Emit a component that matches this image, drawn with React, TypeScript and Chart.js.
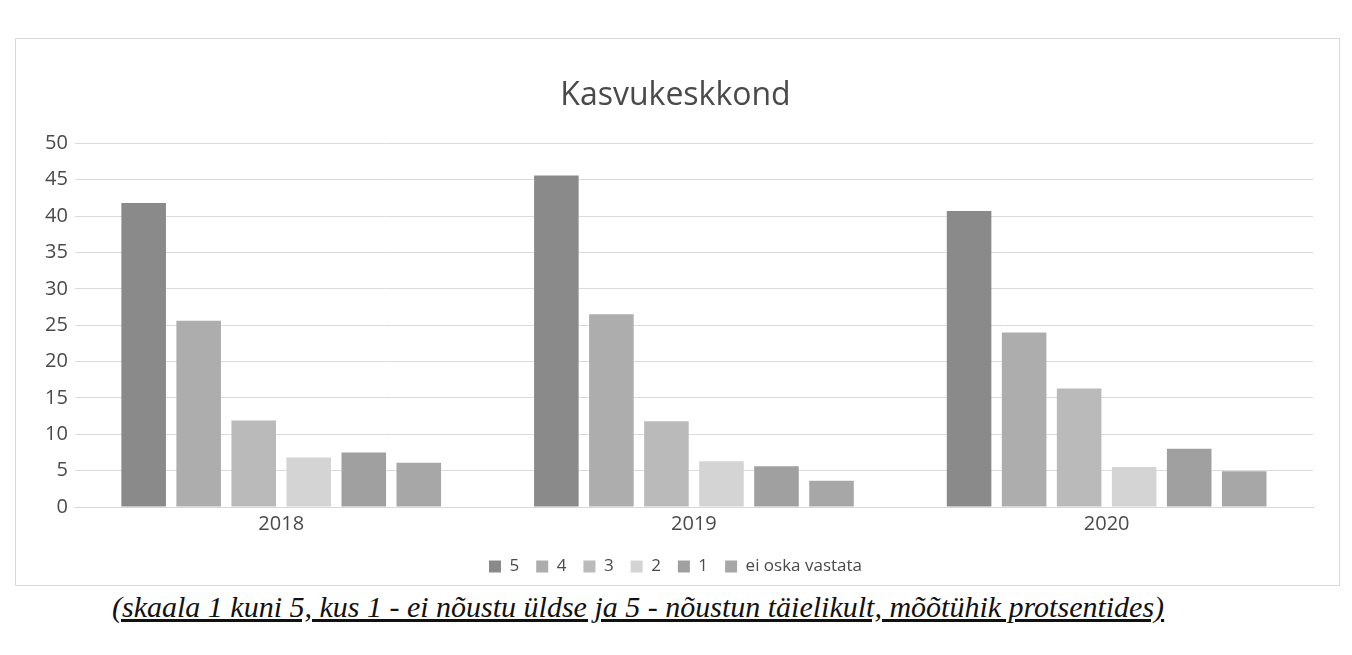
import React, { useEffect, useRef } from "react";
import { Chart, registerables } from "chart.js";

Chart.register(...registerables);

const categories = ["2018", "2019", "2020"];
const seriesLabels = ["5", "4", "3", "2", "1", "ei oska vastata"];
const values5 = [41.8, 45.6, 40.7];
const values4 = [25.6, 26.5, 24.0];
const values3 = [11.9, 11.8, 16.3];
const values2 = [6.8, 6.3, 5.5];
const values1 = [7.5, 5.6, 8.0];
const valuesEi = [6.1, 3.6, 4.9];
const seriesColors = ["#8a8a8a", "#adadad", "#bababa", "#d4d4d4", "#a0a0a0", "#a7a7a7"];
const yTicks = [0, 5, 10, 15, 20, 25, 30, 35, 40, 45, 50];
const titleText = "Kasvukeskkond";
const captionText =
  "(skaala 1 kuni 5, kus 1 - ei nõustu üldse ja 5 - nõustun täielikult, mõõtühik protsentides)";

const FONT = "'Open Sans', 'Noto Sans', sans-serif";
const TEXT_COLOR = "#4a4a4a";

export default function App() {
  const canvasRef = useRef<HTMLCanvasElement | null>(null);

  useEffect(() => {
    if (!canvasRef.current) return;
    const allValues = [values5, values4, values3, values2, values1, valuesEi];
    const chart = new Chart(canvasRef.current, {
      type: "bar",
      data: {
        labels: categories,
        datasets: seriesLabels.map((label, i) => ({
          label,
          data: allValues[i],
          backgroundColor: seriesColors[i],
          borderWidth: 0,
          categoryPercentage: 0.8,
          barPercentage: 0.81,
        })),
      },
      options: {
        responsive: false,
        animation: false,
        devicePixelRatio: 1,
        layout: { padding: { left: 22, right: 26, top: 0, bottom: 0 } },
        plugins: {
          title: {
            display: true,
            text: titleText,
            color: TEXT_COLOR,
            font: { family: FONT, size: 32, weight: "normal" },
            padding: { top: 38, bottom: 28 },
          },
          legend: {
            position: "bottom",
            labels: {
              color: TEXT_COLOR,
              font: { family: FONT, size: 17 },
              boxWidth: 12,
              boxHeight: 12,
              padding: 17,
            },
          },
          tooltip: { enabled: false },
        },
        scales: {
          x: {
            grid: { display: false, drawTicks: false },
            border: { display: true, color: "#d9d9d9" },
            ticks: {
              color: TEXT_COLOR,
              font: { family: FONT, size: 20 },
              padding: 5,
            },
          },
          y: {
            min: 0,
            max: 50,
            afterBuildTicks: (axis: any) => {
              axis.ticks = yTicks.map((v) => ({ value: v }));
            },
            grid: { color: "#dcdcdc", drawTicks: false, lineWidth: 1 },
            border: { display: false },
            ticks: {
              color: TEXT_COLOR,
              font: { family: FONT, size: 20 },
              padding: 7,
            },
          },
        },
      },
    });
    return () => chart.destroy();
  }, []);

  return (
    <div>
      <div
        style={{
          position: "absolute",
          left: 15,
          top: 38,
          width: 1323,
          height: 546,
          border: "1px solid #d9d9d9",
          background: "#fff",
        }}
      >
        <canvas ref={canvasRef} width={1323} height={546} style={{ display: "block" }} />
      </div>
      <div
        style={{
          position: "absolute",
          left: 112,
          top: 590,
          fontFamily: "'Liberation Serif', 'DejaVu Serif', serif",
          fontStyle: "italic",
          fontSize: 30,
          textDecoration: "underline",
          color: "#111",
          whiteSpace: "nowrap",
        }}
      >
        {captionText}
      </div>
    </div>
  );
}
